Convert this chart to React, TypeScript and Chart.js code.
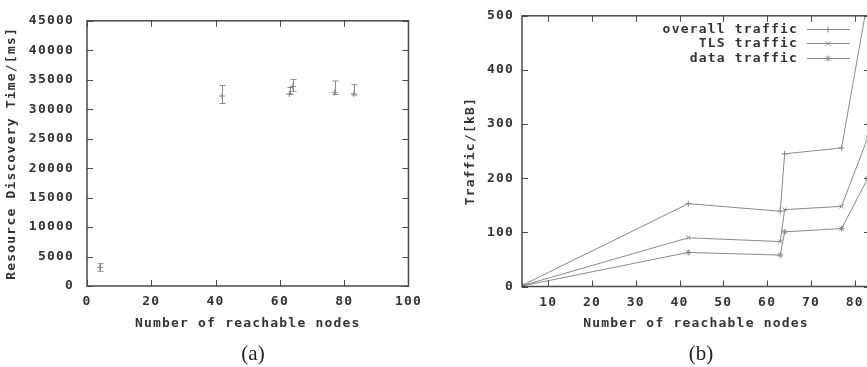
import React, { useEffect, useRef } from 'react';
import { Chart, registerables } from 'chart.js';

Chart.register(...registerables);

// ---------- data ----------
const nodes = [4, 42, 63, 64, 77, 83];

// panel (a): resource discovery time [ms]
const discoveryMean = [3150, 32230, 32610, 33860, 32800, 32610];
const discoveryLow = [2500, 30980, 32490, 33040, 32500, 32400];
const discoveryHigh = [3800, 34030, 33690, 35050, 34780, 34170];

// panel (b): traffic [kB]
const overallTraffic = [2, 153, 139, 245, 256, 530];
const tlsTraffic = [1.5, 90, 83, 142, 148, 275];
const dataTraffic = [1, 63, 58, 101, 107, 200];

const seriesLabels = ['overall traffic', 'TLS traffic', 'data traffic'];
const seriesMarkers = ['cross', 'crossRot', 'star'];

const xTicksA = [0, 20, 40, 60, 80, 100];
const yTicksA = [0, 5000, 10000, 15000, 20000, 25000, 30000, 35000, 40000, 45000];
const xTicksB = [10, 20, 30, 40, 50, 60, 70, 80];
const yTicksB = [0, 100, 200, 300, 400, 500];

// ---------- styles ----------
const FONT_FAMILY = "'DejaVu Sans Mono', 'Liberation Mono', monospace";
const TEXT = '#333333';
const LINE = '#8a8a8a';
const FRAME = '#4a4a4a';
const SPACING = '1.2px';
const font = { family: FONT_FAMILY, size: 13, weight: 'bold' as const };
const plain = (v: any) => String(v);

function drawMarker(ctx: CanvasRenderingContext2D, style: string, x: number, y: number, r: number) {
  ctx.beginPath();
  if (style === 'cross' || style === 'star') {
    ctx.moveTo(x - r, y); ctx.lineTo(x + r, y);
    ctx.moveTo(x, y - r); ctx.lineTo(x, y + r);
  }
  if (style === 'crossRot' || style === 'star') {
    const d = r * 0.75;
    ctx.moveTo(x - d, y - d); ctx.lineTo(x + d, y + d);
    ctx.moveTo(x - d, y + d); ctx.lineTo(x + d, y - d);
  }
  ctx.stroke();
}

const gnuplotFrame = {
  id: 'gnuplotFrame',
  beforeLayout(chart: any) { chart.ctx.letterSpacing = SPACING; },
  beforeDraw(chart: any) { chart.ctx.letterSpacing = SPACING; },
  afterDraw(chart: any) {
    const { ctx, chartArea: a, scales } = chart;
    ctx.save();
    ctx.strokeStyle = FRAME;
    ctx.lineWidth = 1.5;
    ctx.strokeRect(a.left, a.top, a.right - a.left, a.bottom - a.top);
    ctx.lineWidth = 1;
    const L = 6;
    ctx.beginPath();
    scales.x.ticks.forEach((t: any) => {
      const px = Math.round(scales.x.getPixelForValue(t.value)) + 0.5;
      ctx.moveTo(px, a.bottom); ctx.lineTo(px, a.bottom - L);
      ctx.moveTo(px, a.top); ctx.lineTo(px, a.top + L);
    });
    scales.y.ticks.forEach((t: any) => {
      const py = Math.round(scales.y.getPixelForValue(t.value)) + 0.5;
      ctx.moveTo(a.left, py); ctx.lineTo(a.left + L, py);
      ctx.moveTo(a.right, py); ctx.lineTo(a.right - L, py);
    });
    ctx.stroke();
    ctx.restore();
  },
};

const errorBars = {
  id: 'errorBars',
  afterDatasetsDraw(chart: any) {
    const { ctx, scales: { x, y } } = chart;
    ctx.save();
    ctx.strokeStyle = LINE;
    ctx.lineWidth = 1;
    ctx.beginPath();
    nodes.forEach((n, i) => {
      const px = Math.round(x.getPixelForValue(n)) + 0.5;
      const top = y.getPixelForValue(discoveryHigh[i]);
      const bot = y.getPixelForValue(discoveryLow[i]);
      ctx.moveTo(px, top); ctx.lineTo(px, bot);
      ctx.moveTo(px - 3, top); ctx.lineTo(px + 3, top);
      ctx.moveTo(px - 3, bot); ctx.lineTo(px + 3, bot);
    });
    ctx.stroke();
    ctx.restore();
  },
};

const insideLegend = {
  id: 'insideLegend',
  afterDatasetsDraw(chart: any) {
    const { ctx, chartArea: a } = chart;
    ctx.save();
    ctx.font = `bold 13px ${FONT_FAMILY}`;
    ctx.letterSpacing = SPACING;
    ctx.textAlign = 'right';
    ctx.textBaseline = 'middle';
    chart.data.datasets.forEach((ds: any, i: number) => {
      const yy = Math.round(a.top + 13 + i * 14.5) + 0.5;
      ctx.fillStyle = TEXT;
      ctx.fillText(ds.label, a.right - 72, yy);
      ctx.strokeStyle = LINE;
      ctx.lineWidth = 1;
      ctx.beginPath();
      ctx.moveTo(a.right - 63, yy); ctx.lineTo(a.right - 20, yy);
      ctx.stroke();
      drawMarker(ctx, ds.pointStyle, a.right - 42, yy, 3);
    });
    ctx.restore();
  },
};

function setTicks(values: number[]) {
  return (scale: any) => { scale.ticks = values.map((v) => ({ value: v })); };
}

function makeChartA(canvas: HTMLCanvasElement) {
  return new Chart(canvas, {
    type: 'scatter',
    data: {
      datasets: [{
        label: 'Resource Discovery Time',
        data: nodes.map((n, i) => ({ x: n, y: discoveryMean[i] })),
        pointStyle: 'cross',
        pointRadius: 3,
        borderColor: LINE,
        backgroundColor: LINE,
        pointBorderWidth: 1,
      }],
    },
    options: {
      animation: false,
      responsive: false,
      devicePixelRatio: 1,
      layout: { padding: { left: 0, top: 10, right: 14, bottom: 0 } },
      plugins: { legend: { display: false }, tooltip: { enabled: false } },
      scales: {
        x: {
          type: 'linear', min: 0, max: 100,
          afterBuildTicks: setTicks(xTicksA),
          afterFit: (s: any) => { s.height = 81; },
          grid: { display: false, drawTicks: false },
          border: { display: false },
          ticks: { color: TEXT, font, padding: 8, maxRotation: 0, callback: plain },
          title: { display: true, text: 'Number of reachable nodes', color: TEXT, font, padding: { top: 0, bottom: 36 } },
        },
        y: {
          type: 'linear', min: 0, max: 45000,
          afterBuildTicks: setTicks(yTicksA),
          afterFit: (s: any) => { s.width = 87; },
          grid: { display: false, drawTicks: false },
          border: { display: false },
          ticks: { color: TEXT, font, padding: 13, callback: plain },
          title: { display: true, text: 'Resource Discovery Time/[ms]', color: TEXT, font, padding: { top: 4, bottom: 0 } },
        },
      },
    } as any,
    plugins: [gnuplotFrame, errorBars],
  });
}

function makeChartB(canvas: HTMLCanvasElement) {
  const series = [overallTraffic, tlsTraffic, dataTraffic];
  return new Chart(canvas, {
    type: 'line',
    data: {
      datasets: series.map((vals, k) => ({
        label: seriesLabels[k],
        data: nodes.map((n, i) => ({ x: n, y: vals[i] })),
        pointStyle: seriesMarkers[k],
        pointRadius: 3,
        borderColor: LINE,
        backgroundColor: LINE,
        pointBorderColor: LINE,
        borderWidth: 1,
        pointBorderWidth: 1,
        tension: 0,
        fill: false,
      })),
    },
    options: {
      animation: false,
      responsive: false,
      devicePixelRatio: 1,
      layout: { padding: { left: 0, top: 13, right: 10, bottom: 0 } },
      plugins: { legend: { display: false }, tooltip: { enabled: false } },
      scales: {
        x: {
          type: 'linear', min: 4, max: 83.5,
          afterBuildTicks: setTicks(xTicksB),
          afterFit: (s: any) => { s.height = 80.5; },
          grid: { display: false, drawTicks: false },
          border: { display: false },
          ticks: { color: TEXT, font, padding: 8, maxRotation: 0, autoSkip: false, callback: plain },
          title: { display: true, text: 'Number of reachable nodes', color: TEXT, font, padding: { top: 0, bottom: 36 } },
        },
        y: {
          type: 'linear', min: 0, max: 500,
          afterBuildTicks: setTicks(yTicksB),
          afterFit: (s: any) => { s.width = 92; },
          grid: { display: false, drawTicks: false },
          border: { display: false },
          ticks: { color: TEXT, font, padding: 8, callback: plain },
          title: { display: true, text: 'Traffic/[kB]', color: TEXT, font, padding: { top: 33, bottom: 0 } },
        },
      },
    } as any,
    plugins: [gnuplotFrame, insideLegend],
  });
}

const captionStyle: React.CSSProperties = {
  position: 'absolute',
  top: 341,
  width: 100,
  textAlign: 'center',
  fontFamily: "'Liberation Serif', 'DejaVu Serif', serif",
  fontSize: 21,
  lineHeight: '24px',
  color: '#222',
};

export default function App() {
  const refA = useRef<HTMLCanvasElement>(null);
  const refB = useRef<HTMLCanvasElement>(null);

  useEffect(() => {
    const a = makeChartA(refA.current!);
    const b = makeChartB(refB.current!);
    return () => { a.destroy(); b.destroy(); };
  }, []);

  return (
    <div style={{ position: 'fixed', left: 0, top: 0, width: 867, height: 367, overflow: 'hidden', background: '#fff' }}>
      <canvas ref={refA} width={430} height={367} style={{ position: 'absolute', left: 0, top: 0, width: 430, height: 367 }} />
      <canvas ref={refB} width={450} height={367} style={{ position: 'absolute', left: 430, top: 0, width: 450, height: 367 }} />
      <div style={{ ...captionStyle, left: 203 }}>(a)</div>
      <div style={{ ...captionStyle, left: 651 }}>(b)</div>
    </div>
  );
}
